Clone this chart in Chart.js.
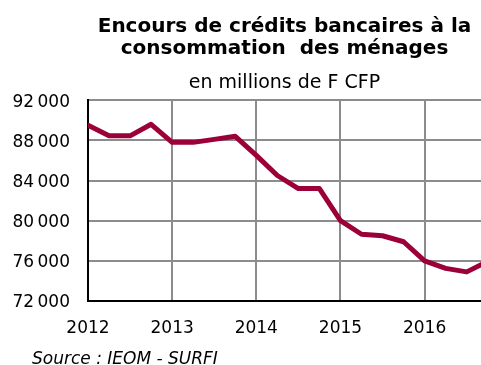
<!DOCTYPE html>
<html lang="fr">
<head>
  <meta charset="UTF-8">
  <title>Encours de crédits bancaires à la consommation des ménages</title>
  <script src="https://cdn.jsdelivr.net/npm/chart.js"></script>
  <style>
    body {
      margin: 0;
      background: #fff;
      font-family: "DejaVu Sans", sans-serif;
    }
    .wrap {
      position: relative;
      width: 481px;
      height: 365px;
      overflow: hidden;
    }
    .source {
      position: absolute;
      left: 32px;
      top: 348px;
      font-size: 17px;
      line-height: 20px;
      font-style: italic;
      color: #000;
    }
  </style>
</head>
<body>
  <div class="wrap">
    <canvas id="chart"></canvas>
    <div class="source">Source : IEOM - SURFI</div>
  </div>

  <script>
    // data (quarterly, in millions de F CFP)
    const yearTicks = [2012, 2013, 2014, 2015, 2016];
    const quarterPos = [
      2012, 2012.25, 2012.5, 2012.75,
      2013, 2013.25, 2013.5, 2013.75,
      2014, 2014.25, 2014.5, 2014.75,
      2015, 2015.25, 2015.5, 2015.75,
      2016, 2016.25, 2016.5, 2016.75
    ];
    const encours = [
      89500, 88450, 88450, 89600,
      87800, 87800, 88100, 88400,
      86500, 84500, 83200, 83200,
      80000, 78650, 78500, 77900,
      76000, 75250, 74900, 75950
    ];
    const yTicks = [72000, 76000, 80000, 84000, 88000, 92000];

    const font = "'DejaVu Sans', sans-serif";

    function fmt(v) {
      return String(v).replace(/\B(?=(\d{3})+(?!\d))/g, "\u202F");
    }

    new Chart(document.getElementById("chart"), {
      type: "line",
      data: {
        datasets: [{
          data: quarterPos.map((x, i) => ({ x: x, y: encours[i] })),
          borderColor: "#9b0038",
          borderWidth: 5,
          pointRadius: 0,
          tension: 0,
          borderJoinStyle: "round",
          borderCapStyle: "round"
        }]
      },
      options: {
        responsive: true,
        maintainAspectRatio: false,
        animation: false,
        layout: { padding: { left: 0, right: 0, top: 0, bottom: 24 } },
        plugins: {
          legend: { display: false },
          tooltip: { enabled: false },
          title: {
            display: true,
            fullSize: false,
            text: ["Encours de crédits bancaires à la", "consommation  des ménages"],
            color: "#000",
            font: { family: font, size: 20, weight: "bold", lineHeight: "21.7px" },
            padding: { top: 16, bottom: 12 }
          },
          subtitle: {
            display: true,
            fullSize: false,
            text: "en millions de F CFP",
            color: "#000",
            font: { family: font, size: 19, lineHeight: 1.2 },
            padding: { top: 0, bottom: 6 }
          }
        },
        scales: {
          x: {
            type: "linear",
            min: 2012,
            max: 2016.67,
            afterBuildTicks: s => { s.ticks = yearTicks.map(v => ({ value: v })); },
            afterFit: s => { s.height = 40; },
            ticks: {
              color: "#000",
              font: { family: font, size: 17 },
              padding: 17,
              callback: v => String(v)
            },
            grid: { color: "#8c8c8c", lineWidth: 2, drawTicks: false },
            border: { color: "#000", width: 2 }
          },
          y: {
            min: 72000,
            max: 92000,
            afterBuildTicks: s => { s.ticks = yTicks.map(v => ({ value: v })); },
            afterFit: s => { s.width = 88; },
            ticks: {
              color: "#000",
              font: { family: font, size: 17 },
              padding: 18,
              labelOffset: 2,
              callback: v => fmt(v)
            },
            grid: { color: "#8c8c8c", lineWidth: 2, drawTicks: false },
            border: { color: "#000", width: 2 }
          }
        }
      }
    });
  </script>
</body>
</html>
